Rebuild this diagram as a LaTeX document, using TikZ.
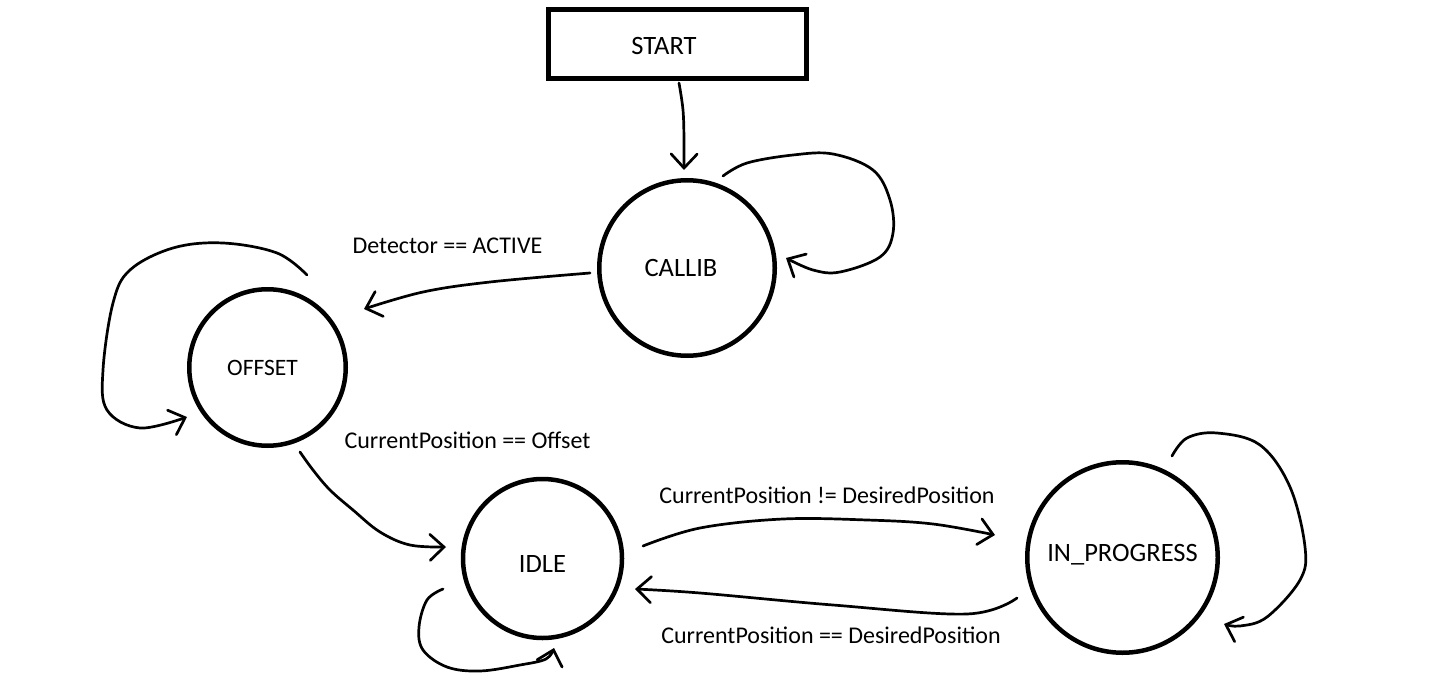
\documentclass[tikz,border=0pt]{standalone}
\usepackage{fontspec}
\setmainfont{Carlito}
\usetikzlibrary{arrows.meta,calc}
\begin{document}
\begin{tikzpicture}[x=1pt,y=-1pt,
  state/.style={circle,draw,line width=4.5pt,inner sep=0pt,font=\fontsize{26.5}{30}\selectfont},
  startbox/.style={rectangle,draw,line width=4.5pt,inner sep=0pt,minimum width=258pt,minimum height=69pt,font=\fontsize{26.5}{30}\selectfont},
  cond/.style={inner sep=0pt,font=\fontsize{24}{28}\selectfont},
  conn/.style={line width=2.7pt,line cap=round,line join=round,-{Straight Barb[length=14pt,width=26pt,line cap=round]}},
]
\useasboundingbox (0,0) rectangle (1447,695);

% nodes
\node[startbox,text height=21.1pt,text depth=0pt] (start) at (677.5,44) {START\hspace*{27pt}};
\node[state,minimum size=175.5pt] (callib) at (687,268) {CALLIB\hspace*{12pt}};
\node[state,minimum size=156.5pt,font=\fontsize{23.5}{28}\selectfont] (offset) at (267.5,367.5) {OFFSET\hspace*{10pt}};
\node[state,minimum size=159pt,text height=28pt,text depth=0pt] (idle) at (542.5,558.5) {IDLE};
\node[state,minimum size=190.5pt,text height=17.1pt,text depth=10pt] (prog) at (1122.5,557.5) {IN\_PROGRESS};

% labels
\node[cond] (l1) at (447.5,246) {Detector == ACTIVE};
\node[cond] (l2) at (467.5,440) {CurrentPosition == Offset};
\node[cond] (l3) at (827,495) {CurrentPosition != DesiredPosition};
\node[cond] (l4) at (831,635) {CurrentPosition == DesiredPosition};

% connectors
\draw[conn] plot[smooth,tension=0.6] coordinates {($(start)+(1.5,39)$) (683,110) (684,140) ($(callib)+(-3,-98)$)};
\draw[conn] plot[smooth,tension=0.6] coordinates {($(callib)+(36,-92)$) (747,163) (793,155) (833,154) (873,170) (890,200) (893,233) (880,257) (840,272) (813,270) ($(callib)+(99,-10)$)};
\draw[conn] plot[smooth,tension=0.6] coordinates {($(callib)+(-97,5)$) (490,282) (423,292) ($(offset)+(96.5,-58.5)$)};
\draw[conn] plot[smooth,tension=0.6] coordinates {($(offset)+(39.5,-92.5)$) (277,253) (223,243) (173,248) (130,270) (113,303) (103,370) (107,410) (140,428) ($(offset)+(-80.5,49.5)$)};
\draw[conn] plot[smooth,tension=0.6] coordinates {($(offset)+(32.5,84.5)$) (313,470) (330,490) (353,510) (380,532) (410,545) ($(idle)+(-96.5,-11.5)$)};
\draw[conn] plot[smooth,tension=0.6] coordinates {($(idle)+(-99.5,30.5)$) (427,600) (419,627) (423,650) (447,667) (480,671) (520,665) (546,659) ($(idle)+(11.5,89.5)$)};
\draw[conn] plot[smooth,tension=0.6] coordinates {($(idle)+(100.5,-12.5)$) (700,528) (783,519) (867,520) (933,524) ($(prog)+(-127.5,-22.5)$)};
\draw[conn] plot[smooth,tension=0.6] coordinates {($(prog)+(-105.5,40.5)$) (967,614) (833,605) (700,593) ($(idle)+(92.5,30.5)$)};
\draw[conn] plot[smooth,tension=0.6] coordinates {($(prog)+(49.5,-101.5)$) (1187,438) (1217,433) (1260,445) (1290,487) (1305,547) (1300,580) (1267,617) (1240,626) ($(prog)+(101.5,66.5)$)};
\end{tikzpicture}
\end{document}
